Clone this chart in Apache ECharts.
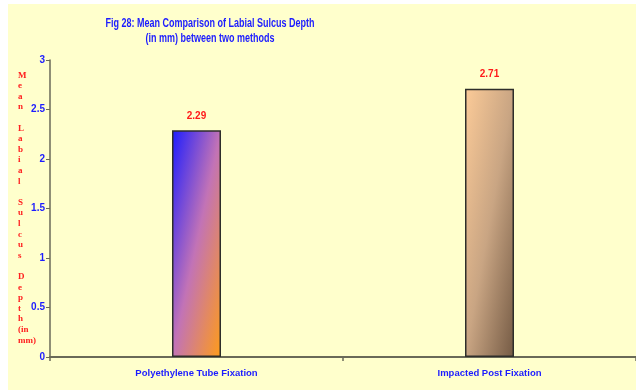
<!DOCTYPE html>
<html>
<head>
<meta charset="utf-8">
<script src="https://cdn.jsdelivr.net/npm/echarts@6/dist/echarts.min.js"></script>
<style>
  html, body { margin: 0; padding: 0; background: #ffffff; }
  #chart { position: absolute; left: 8px; top: 4px; width: 628px; height: 386px; }
</style>
</head>
<body>
<div id="chart"></div>
<script>
// Mean labial sulcus depth (mm) for the two fixation methods
const categories = ['Polyethylene Tube Fixation', 'Impacted Post Fixation'];
const meanDepth = [2.29, 2.71];
const yMin = 0, yMax = 3, yStep = 0.5;

const titleText = 'Fig 28: Mean Comparison of Labial Sulcus Depth\n(in mm) between two methods';
const yAxisWords = ['Mean', 'Labial', 'Sulcus', 'Depth'];
const yAxisUnit = ['(in', 'mm)'];

const sans = 'Arial, "Liberation Sans", sans-serif';
const blue = '#1c1cff';
const axisColor = '#6a6a58';

// Diagonal fill: colour runs from the top-left corner to the bottom-right corner
function diagonal(wPx, hPx, stops) {
  const s = hPx * hPx + wPx * wPx;
  return {
    type: 'linear', x: 0, y: 0,
    x2: 2 * hPx * hPx / s, y2: 2 * wPx * wPx / s,
    colorStops: stops
  };
}

const barW = 49;
const pxPerUnit = 99;
const fills = [
  [{ offset: 0, color: '#1c1cff' }, { offset: 0.5, color: '#c273b6' }, { offset: 1, color: '#ff9c18' }],
  [{ offset: 0, color: '#fccb98' }, { offset: 0.5, color: '#c9a583' }, { offset: 1, color: '#745a44' }]
];

// vertical, letter-per-line axis caption
const captionLines = [];
yAxisWords.forEach(w => {
  w.split('').forEach(ch => captionLines.push(ch));
  captionLines.push('');
});
captionLines.pop();
captionLines.push(...yAxisUnit);

const chart = echarts.init(document.getElementById('chart'));
chart.setOption({
  backgroundColor: '#ffffcc',
  animation: false,
  graphic: [{
    // condensed two-line heading
    type: 'text',
    x: 202, y: 12,
    scaleX: 0.75, originX: 0, originY: 0,
    style: {
      text: titleText,
      font: 'bold 12px ' + sans,
      fill: blue,
      lineHeight: 15,
      align: 'center',
      verticalAlign: 'top'
    }
  }, {
    type: 'text',
    left: 10, top: 66,
    style: {
      text: captionLines.join('\n'),
      font: 'bold 9px "Liberation Serif", "Times New Roman", serif',
      fill: '#ff2020',
      lineHeight: 10.6,
      align: 'center'
    }
  }],
  grid: { left: 42, right: -3, top: 56, bottom: 33 },
  xAxis: {
    type: 'category',
    data: categories,
    axisLine: { lineStyle: { color: axisColor, width: 2 } },
    axisTick: { show: true, length: 4, lineStyle: { color: axisColor, width: 1.5 } },
    axisLabel: { fontFamily: sans, fontWeight: 'bold', fontSize: 9.5, color: blue, margin: 11 }
  },
  yAxis: {
    type: 'value',
    min: yMin, max: yMax, interval: yStep,
    splitLine: { show: false },
    axisLine: { show: true, lineStyle: { color: axisColor, width: 1.5 } },
    axisTick: { show: true, length: 4, lineStyle: { color: axisColor } },
    axisLabel: { fontFamily: sans, fontWeight: 'bold', fontSize: 10, color: blue, margin: 5 }
  },
  series: [{
    type: 'bar',
    barWidth: barW,
    data: meanDepth.map((v, i) => ({
      value: v,
      itemStyle: {
        color: diagonal(barW, v * pxPerUnit, fills[i]),
        borderColor: '#2e2e2a',
        borderWidth: 1.5
      }
    })),
    label: {
      show: true, position: 'top', distance: 9,
      fontFamily: sans, fontWeight: 'bold', fontSize: 10, color: '#ff1a1a'
    }
  }]
});
</script>
</body>
</html>
